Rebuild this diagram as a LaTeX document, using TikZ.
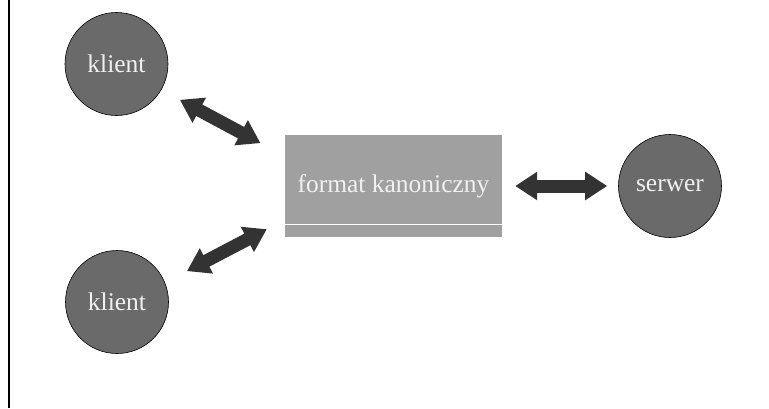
\documentclass[tikz,border=0pt]{standalone}
\usepackage{fontspec}
\setmainfont{Liberation Serif}
\usetikzlibrary{positioning,arrows.meta}
\definecolor{peergray}{HTML}{6A6A6A}
\definecolor{boxgray}{HTML}{A0A0A0}
\definecolor{labelgray}{HTML}{F0F0F0}
\definecolor{linkgray}{HTML}{333333}

\begin{document}
\begin{tikzpicture}[x=1pt,y=1pt]
  \useasboundingbox (0,0) rectangle (769,-408);
  \draw[line width=2pt] (9,0) -- (9,-408);
  \begin{scope}[
    every node/.style={text=labelgray,font=\fontsize{25.5}{30}\selectfont,inner sep=0pt},
    peer/.style={circle,draw=black,line width=0.6pt,fill=peergray,minimum size=103pt},
    ]
    \node[fill=boxgray,minimum width=217pt,minimum height=102pt] (format) at (393.5,-186) {format kanoniczny};
    \node[peer] (klientA) at (116.5,-64) {klient};
    \node[peer] (klientB) at (117,-302) {klient};
    \node[peer,right=116pt of format] (serwer) {serwer};
  \end{scope}
  \draw[white,line width=1pt] ([yshift=13pt]format.south west) -- ([yshift=13pt]format.south east);
  \begin{scope}[
    every path/.style={draw=linkgray,line width=13pt,
      {Triangle[width=27pt,length=22pt]}-{Triangle[width=27pt,length=22pt]}},
    ]
    \path[shorten <=21pt] (klientA.-30.6) -- ([xshift=-24.3pt,yshift=-8.3pt]format.north west);
    \path[shorten <=24.7pt] (klientB.22.6) -- ([xshift=-18pt,yshift=8pt]format.south west);
    \path[shorten <=13pt,shorten >=11pt] (format) -- (serwer);
  \end{scope}
\end{tikzpicture}
\end{document}
